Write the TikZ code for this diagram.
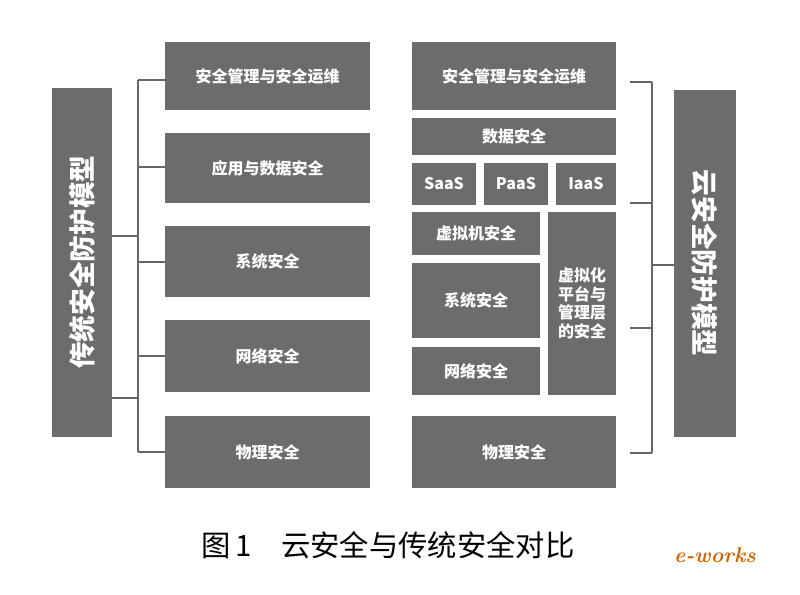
\documentclass[tikz,border=0pt]{standalone}
\usepackage{fontspec}
\newfontfamily\cjk{Noto Sans CJK SC}
\usetikzlibrary{positioning}
\definecolor{boxgray}{RGB}{108,108,108}
\tikzset{
  blk/.style={fill=boxgray, draw=none, text=white, font=\cjk\bfseries\fontsize{12}{14}\selectfont, inner sep=0pt},
  side/.style={blk, font=\cjk\bfseries\fontsize{20}{24}\selectfont},
  brk/.style={draw=black!60, line width=0.8pt}
}
\newcommand{\blkbox}[6]{\fill[boxgray] (#1,#2) rectangle (#3,#4);
  \node[blk] (#5) at ({(#1+#3)/2},{(#2+#4)/2}) {#6};}
\begin{document}
\begin{tikzpicture}[x=0.75pt,y=-0.75pt]
  \useasboundingbox[fill=white] (0,0) rectangle (800,594);

  % left column
  \blkbox{165}{42}{370}{110}{la}{安全管理与安全运维}
  \blkbox{165}{133}{370}{203}{lb}{应用与数据安全}
  \blkbox{165}{226}{370}{297}{lc}{系统安全}
  \blkbox{165}{320}{370}{392}{ld}{网络安全}
  \blkbox{165}{416}{370}{488}{le}{物理安全}

  % right column
  \blkbox{412}{42}{616}{110}{ra}{安全管理与安全运维}
  \blkbox{412}{118}{616}{155}{rb}{数据安全}
  \blkbox{412}{163}{476}{205}{saas}{SaaS}
  \blkbox{484}{163}{548}{205}{paas}{PaaS}
  \blkbox{556}{163}{616}{205}{iaas}{IaaS}
  \blkbox{412}{212}{540}{255}{vm}{虚拟机安全}
  \blkbox{412}{263}{540}{338}{rsys}{系统安全}
  \blkbox{412}{347}{540}{395}{rnet}{网络安全}
  \fill[boxgray] (548,212) rectangle (616,395);
  \node[blk, align=center] (virt) at (582,303.5) {虚拟化\\平台与\\管理层\\的安全};
  \blkbox{412}{416}{616}{488}{re}{物理安全}

  % side boxes
  \fill[boxgray] (52,88) rectangle (112,437);
  \node[side, rotate=90] (trad) at (82,262) {传统安全防护模型};
  \fill[boxgray] (674,90) rectangle (736,437);
  \node[side, rotate=-90] (cloud) at (705,263) {云安全防护模型};

  % brackets
  \draw[brk] (138,80) -- (138,452);
  \foreach \y in {80,167,262,356,452} \draw[brk] (138,\y) -- (165,\y);
  \foreach \y in {236,398} \draw[brk] (112,\y) -- (138,\y);

  \draw[brk] (652,82) -- (652,453);
  \foreach \y in {82,203,328,453} \draw[brk] (630,\y) -- (652,\y);
  \draw[brk, line width=1.4pt] (652,265) -- (674,265);

  % caption
  \node[font=\cjk\fontsize{22}{26}\selectfont] (cap) at (388,545) {图\,1\quad 云安全与传统安全对比};
  \node[font=\itshape\bfseries\fontsize{16}{18}\selectfont, text=orange!80!black] (logo) at (715,555) {e-works};
\end{tikzpicture}
\end{document}
